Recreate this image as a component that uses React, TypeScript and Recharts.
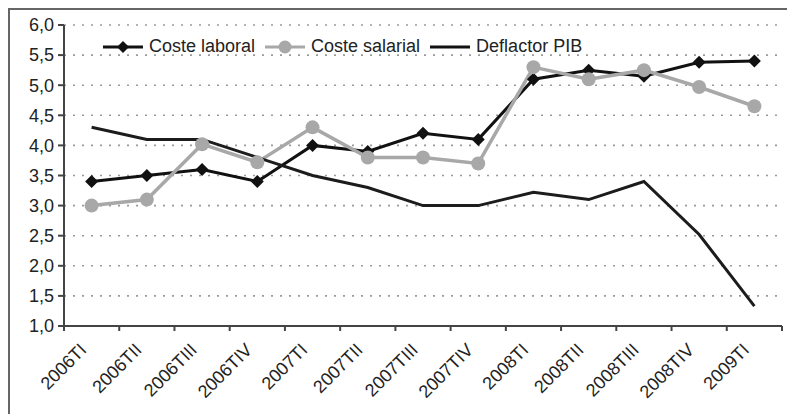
import React from 'react';
import { LineChart, Line, XAxis, YAxis, CartesianGrid, Legend } from 'recharts';

const categories = [
  '2006TI', '2006TII', '2006TIII', '2006TIV',
  '2007TI', '2007TII', '2007TIII', '2007TIV',
  '2008TI', '2008TII', '2008TIII', '2008TIV',
  '2009TI',
];
const costeLaboral = [3.4, 3.5, 3.6, 3.4, 4.0, 3.9, 4.2, 4.1, 5.1, 5.25, 5.15, 5.38, 5.4];
const costeSalarial = [3.0, 3.1, 4.02, 3.72, 4.3, 3.8, 3.8, 3.7, 5.3, 5.1, 5.25, 4.97, 4.65];
const deflactorPIB = [4.3, 4.1, 4.1, 3.8, 3.5, 3.3, 3.0, 3.0, 3.22, 3.1, 3.4, 2.52, 1.33];
const yTicks = [1, 1.5, 2, 2.5, 3, 3.5, 4, 4.5, 5, 5.5, 6];

const data = categories.map((name, i) => ({
  name,
  laboral: costeLaboral[i],
  salarial: costeSalarial[i],
  deflactor: deflactorPIB[i],
}));

const W = 777;
const H = 404;
const M = { top: 15, right: 5, left: 0, bottom: 12 };
const Y_W = 54;
const BAND = (W - M.left - M.right - Y_W) / categories.length;
const FONT = '"Liberation Sans", Arial, sans-serif';
const TEXT = '#222';
const AXIS = '#444';

const BLACK = '#111';
const GREY = '#a8a8a8';

const Diamond = (props: any) => {
  const { cx, cy } = props;
  if (cx == null || cy == null) return null;
  const s = 6.5;
  return (
    <polygon
      points={`${cx},${cy - s} ${cx + s},${cy} ${cx},${cy + s} ${cx - s},${cy}`}
      fill={BLACK}
    />
  );
};

// category labels sit at band centres, tick marks at band edges (Excel style)
const XTick = (props: any) => {
  const { x, y, payload, index } = props;
  const tx = x - 4;
  const ty = y + 25;
  return (
    <g>
      <line x1={x - BAND / 2} x2={x - BAND / 2} y1={y} y2={y + 5} stroke={AXIS} strokeWidth={2} />
      {index === categories.length - 1 && (
        <line x1={x + BAND / 2} x2={x + BAND / 2} y1={y} y2={y + 5} stroke={AXIS} strokeWidth={2} />
      )}
      <text
        x={tx}
        y={ty}
        textAnchor="end"
        transform={`rotate(-45, ${tx}, ${ty})`}
        fontSize={18}
        fontFamily={FONT}
        fill={TEXT}
      >
        {payload.value}
      </text>
    </g>
  );
};

const legendItems = [
  { label: 'Coste laboral', color: BLACK, marker: 'diamond' },
  { label: 'Coste salarial', color: GREY, marker: 'circle' },
  { label: 'Deflactor PIB', color: BLACK, marker: 'none' },
];

const LegendContent = () => (
  <div style={{ display: 'flex', alignItems: 'center', fontFamily: FONT, fontSize: 18, color: TEXT, whiteSpace: 'nowrap' }}>
    {legendItems.map((item) => (
      <div key={item.label} style={{ display: 'flex', alignItems: 'center', marginRight: 10 }}>
        <svg width={40} height={16} style={{ marginRight: 6 }}>
          <line x1={0} x2={40} y1={8} y2={8} stroke={item.color} strokeWidth={3} />
          {item.marker === 'diamond' && <polygon points="20,2 26,8 20,14 14,8" fill={item.color} />}
          {item.marker === 'circle' && <circle cx={20} cy={8} r={6.5} fill={item.color} />}
        </svg>
        <span>{item.label}</span>
      </div>
    ))}
  </div>
);

export default function App() {
  return (
    <div
      style={{
        position: 'fixed',
        top: 8,
        left: 8,
        width: W,
        height: H,
        borderTop: '2px solid #666',
        borderLeft: '2px solid #666',
        background: '#fff',
      }}
    >
      <LineChart width={W} height={H} data={data} margin={M}>
        <CartesianGrid
          vertical={false}
          stroke="#9a9a9a"
          strokeWidth={1.6}
          strokeDasharray="2 7"
        />
        <XAxis
          dataKey="name"
          scale="band"
          interval={0}
          height={76}
          tickSize={0}
          tickMargin={0}
          tickLine={false}
          axisLine={{ stroke: AXIS, strokeWidth: 2 }}
          tick={<XTick />}
        />
        <YAxis
          width={Y_W}
          domain={[1, 6]}
          ticks={yTicks}
          interval={0}
          tickSize={6}
          tickMargin={4}
          axisLine={{ stroke: AXIS, strokeWidth: 2 }}
          tickLine={{ stroke: AXIS, strokeWidth: 2 }}
          tickFormatter={(v: number) => v.toFixed(1).replace('.', ',')}
          tick={{ fill: TEXT, fontSize: 18, fontFamily: FONT }}
        />
        <Legend
          layout="horizontal"
          verticalAlign="middle"
          align="center"
          wrapperStyle={{ top: 26, left: 93, width: 'auto' }}
          content={<LegendContent />}
        />
        <Line
          dataKey="laboral"
          name="Coste laboral"
          type="linear"
          stroke={BLACK}
          strokeWidth={3}
          dot={<Diamond />}
          isAnimationActive={false}
        />
        <Line
          dataKey="salarial"
          name="Coste salarial"
          type="linear"
          stroke={GREY}
          strokeWidth={3.5}
          dot={{ r: 7, fill: GREY, stroke: 'none' }}
          isAnimationActive={false}
        />
        <Line
          dataKey="deflactor"
          name="Deflactor PIB"
          type="linear"
          stroke="#1c1c1c"
          strokeWidth={3}
          dot={false}
          isAnimationActive={false}
        />
      </LineChart>
    </div>
  );
}
